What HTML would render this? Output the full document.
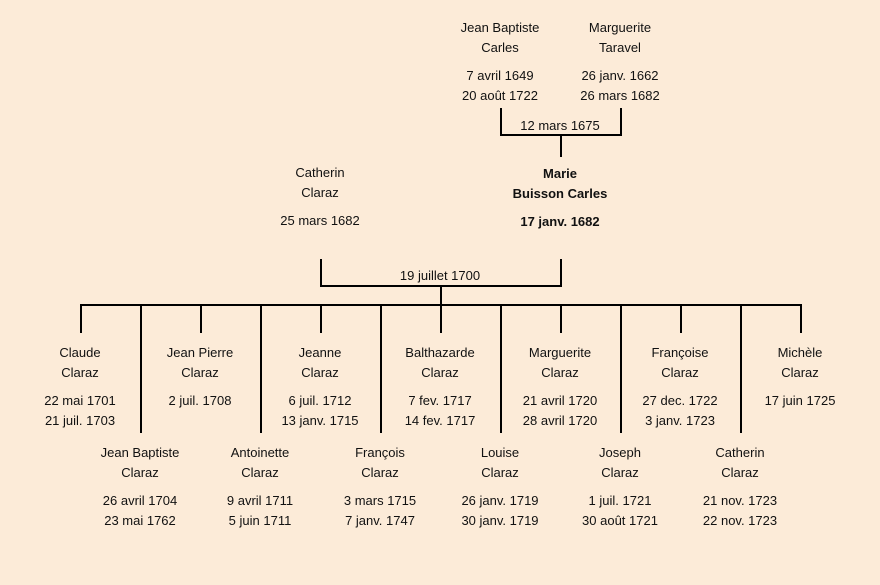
<!DOCTYPE html>
<html><head><meta charset="utf-8"><style>
html,body{margin:0;padding:0;background:#fcebd8;}
svg{display:block;}
text{font-family:"Comic Sans MS","Liberation Sans",sans-serif;font-size:13px;fill:#111;text-anchor:middle;}
.b{font-weight:bold;}
</style></head><body>
<svg width="880" height="585" viewBox="0 0 880 585">
<rect width="880" height="585" fill="#fcebd8"/>
<g stroke="#000" stroke-width="2" fill="none">
<polyline points="501,108 501,135 621,135 621,108"/>
<line x1="561" y1="135" x2="561" y2="157"/>
<polyline points="321,259 321,286 561,286 561,259"/>
<line x1="441" y1="286" x2="441" y2="305"/>
<line x1="80" y1="305" x2="802" y2="305"/>
<line x1="81" y1="305" x2="81" y2="333"/>
<line x1="201" y1="305" x2="201" y2="333"/>
<line x1="321" y1="305" x2="321" y2="333"/>
<line x1="441" y1="305" x2="441" y2="333"/>
<line x1="561" y1="305" x2="561" y2="333"/>
<line x1="681" y1="305" x2="681" y2="333"/>
<line x1="801" y1="305" x2="801" y2="333"/>
<line x1="141" y1="305" x2="141" y2="433"/>
<line x1="261" y1="305" x2="261" y2="433"/>
<line x1="381" y1="305" x2="381" y2="433"/>
<line x1="501" y1="305" x2="501" y2="433"/>
<line x1="621" y1="305" x2="621" y2="433"/>
<line x1="741" y1="305" x2="741" y2="433"/>
</g>
<text x="500" y="32">Jean Baptiste</text><text x="500" y="52">Carles</text>
<text x="500" y="80">7 avril 1649</text><text x="500" y="100">20 août 1722</text>
<text x="620" y="32">Marguerite</text><text x="620" y="52">Taravel</text>
<text x="620" y="80">26 janv. 1662</text><text x="620" y="100">26 mars 1682</text>
<text x="560" y="130">12 mars 1675</text>
<text x="320" y="177">Catherin</text><text x="320" y="197">Claraz</text><text x="320" y="225">25 mars 1682</text>
<text class="b" x="560" y="178">Marie</text><text class="b" x="560" y="198">Buisson Carles</text><text class="b" x="560" y="226">17 janv. 1682</text>
<text x="440" y="280">19 juillet 1700</text>
<text x="80" y="357">Claude</text><text x="80" y="377">Claraz</text><text x="80" y="405">22 mai 1701</text><text x="80" y="425">21 juil. 1703</text>
<text x="200" y="357">Jean Pierre</text><text x="200" y="377">Claraz</text><text x="200" y="405">2 juil. 1708</text>
<text x="320" y="357">Jeanne</text><text x="320" y="377">Claraz</text><text x="320" y="405">6 juil. 1712</text><text x="320" y="425">13 janv. 1715</text>
<text x="440" y="357">Balthazarde</text><text x="440" y="377">Claraz</text><text x="440" y="405">7 fev. 1717</text><text x="440" y="425">14 fev. 1717</text>
<text x="560" y="357">Marguerite</text><text x="560" y="377">Claraz</text><text x="560" y="405">21 avril 1720</text><text x="560" y="425">28 avril 1720</text>
<text x="680" y="357">Françoise</text><text x="680" y="377">Claraz</text><text x="680" y="405">27 dec. 1722</text><text x="680" y="425">3 janv. 1723</text>
<text x="800" y="357">Michèle</text><text x="800" y="377">Claraz</text><text x="800" y="405">17 juin 1725</text>
<text x="140" y="457">Jean Baptiste</text><text x="140" y="477">Claraz</text><text x="140" y="505">26 avril 1704</text><text x="140" y="525">23 mai 1762</text>
<text x="260" y="457">Antoinette</text><text x="260" y="477">Claraz</text><text x="260" y="505">9 avril 1711</text><text x="260" y="525">5 juin 1711</text>
<text x="380" y="457">François</text><text x="380" y="477">Claraz</text><text x="380" y="505">3 mars 1715</text><text x="380" y="525">7 janv. 1747</text>
<text x="500" y="457">Louise</text><text x="500" y="477">Claraz</text><text x="500" y="505">26 janv. 1719</text><text x="500" y="525">30 janv. 1719</text>
<text x="620" y="457">Joseph</text><text x="620" y="477">Claraz</text><text x="620" y="505">1 juil. 1721</text><text x="620" y="525">30 août 1721</text>
<text x="740" y="457">Catherin</text><text x="740" y="477">Claraz</text><text x="740" y="505">21 nov. 1723</text><text x="740" y="525">22 nov. 1723</text>
</svg>
</body></html>
